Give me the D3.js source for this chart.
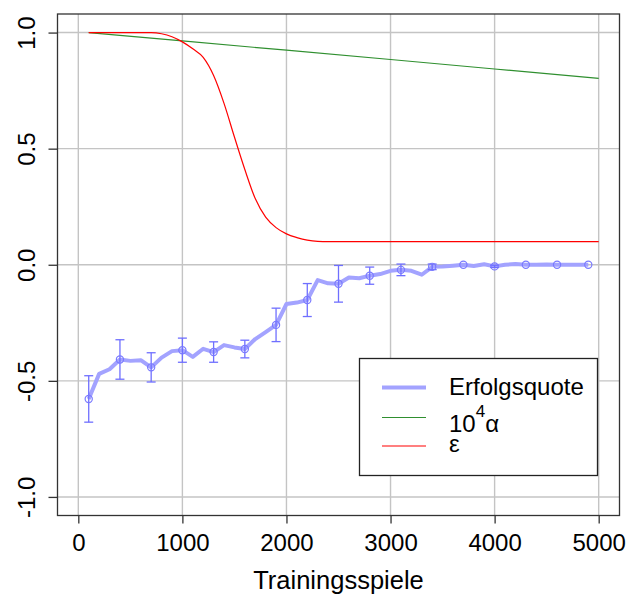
<!DOCTYPE html>
<html>
<head>
<meta charset="utf-8">
<script src="https://cdn.jsdelivr.net/npm/d3@7"></script>
<style>
  html, body { margin: 0; padding: 0; background: #fff; }
  svg text { font-family: "Liberation Sans", Arial, sans-serif; fill: #000; }
</style>
</head>
<body>
<svg id="chart" width="628" height="597"></svg>
<script>
// Training games (x) for the success-rate curve, every 100 games
const games = [100,200,300,400,500,600,700,800,900,1000,1100,1200,1300,1400,1500,1600,1700,1800,1900,2000,
  2100,2200,2300,2400,2500,2600,2700,2800,2900,3000,3100,3200,3300,3400,3500,3600,3700,3800,3900,4000,
  4100,4200,4300,4400,4500,4600,4700,4800,4900];
const successRate = [-0.578,-0.47,-0.45,-0.408,-0.414,-0.411,-0.442,-0.40,-0.372,-0.368,-0.397,-0.362,-0.376,-0.346,-0.356,-0.363,-0.320,-0.290,-0.259,-0.169,
  -0.163,-0.152,-0.066,-0.080,-0.082,-0.055,-0.058,-0.047,-0.040,-0.026,-0.022,-0.026,-0.043,-0.009,-0.008,-0.004,0.000,-0.005,0.002,-0.007,
  0.000,0.003,0.000,0.000,0.001,0.000,0.000,0.000,0.000];

// Sampled points with standard-error bars
const sampleGames = [100,400,700,1000,1300,1600,1900,2200,2500,2800,3100,3400,3700,4000,4300,4600,4900];
const sampleRate  = [-0.578,-0.408,-0.442,-0.368,-0.376,-0.363,-0.259,-0.152,-0.082,-0.047,-0.022,-0.009,0.000,-0.007,0.000,0.000,0.000];
const sampleErr   = [0.100,0.085,0.063,0.052,0.044,0.038,0.072,0.071,0.079,0.037,0.025,0.012,0,0.005,0,0,0];

// Learning rate (scaled by 10^4)
const alphaGames = [100,1000,2000,3000,4000,5000];
const alphaScaled = [1.000,0.964,0.924,0.884,0.843,0.803];

// Exploration rate epsilon
const epsGames = [100,200,300,400,500,600,700,800,900,1000,1100,1200,1300,1400,1500,1600,1700,1800,1900,2000,
  2100,2200,2300,2400,2500,3000,3500,4000,4500,5000];
const epsilon = [1.0,1.0,1.0,1.0,1.0,1.0,1.0,0.995,0.982,0.960,0.930,0.893,0.815,0.695,0.550,0.410,0.285,0.205,0.160,0.133,
  0.117,0.106,0.101,0.100,0.100,0.100,0.100,0.100,0.100,0.100];

const xTicks = [0,1000,2000,3000,4000,5000];
const yTicks = [1.0,0.5,0.0,-0.5,-1.0];
const yTickLabels = ["1.0","0.5","0.0","-0.5","-1.0"];
const xTitle = "Trainingsspiele";

const svg = d3.select("#chart");
const plot = {left: 57.5, right: 619.5, top: 14, bottom: 515.5};

const x = d3.scaleLinear().domain([-200, 5200]).range([plot.left, plot.right]);
const y = d3.scaleLinear().domain([-1.08, 1.08]).range([plot.bottom, plot.top]);

// grid
const grid = svg.append("g").attr("stroke", "#c4c4c4").attr("stroke-width", 1.4);
grid.selectAll(".gx").data(xTicks).join("line")
  .attr("x1", d => x(d)).attr("x2", d => x(d)).attr("y1", plot.top).attr("y2", plot.bottom);
grid.selectAll(".gy").data(yTicks).join("line")
  .attr("y1", d => y(d)).attr("y2", d => y(d)).attr("x1", plot.left).attr("x2", plot.right);

// epsilon and alpha curves
const line = d3.line().x(d => x(d[0])).y(d => y(d[1]));
const smooth = d3.line().x(d => x(d[0])).y(d => y(d[1])).curve(d3.curveMonotoneX);
svg.append("path").datum(d3.zip(alphaGames, alphaScaled))
  .attr("d", line).attr("fill", "none").attr("stroke", "#2f8f2f").attr("stroke-width", 1.2);
svg.append("path").datum(d3.zip(epsGames, epsilon))
  .attr("d", smooth).attr("fill", "none").attr("stroke", "#ff0000").attr("stroke-width", 1.2);

// success rate curve
svg.append("path").datum(d3.zip(games, successRate))
  .attr("d", line).attr("fill", "none").attr("stroke", "#a3a3ff").attr("stroke-width", 4)
  .attr("stroke-linejoin", "round");

// error bars (skipped where zero)
const bars = d3.zip(sampleGames, sampleRate, sampleErr).filter(d => d[2] > 0);
const eb = svg.append("g").attr("stroke", "#6f6fff").attr("stroke-width", 1.3).attr("fill", "none");
bars.forEach(d => {
  const cx = x(d[0]), y0 = y(d[1] - d[2]), y1 = y(d[1] + d[2]);
  eb.append("line").attr("x1", cx).attr("x2", cx).attr("y1", y0).attr("y2", y1);
  eb.append("line").attr("x1", cx - 4.5).attr("x2", cx + 4.5).attr("y1", y0).attr("y2", y0);
  eb.append("line").attr("x1", cx - 4.5).attr("x2", cx + 4.5).attr("y1", y1).attr("y2", y1);
});
svg.append("g").selectAll("circle").data(d3.zip(sampleGames, sampleRate)).join("circle")
  .attr("cx", d => x(d[0])).attr("cy", d => y(d[1])).attr("r", 3.6)
  .attr("fill", "none").attr("stroke", "#7a7aff").attr("stroke-width", 1.2);

// axes
const xAxis = svg.append("g").attr("transform", `translate(0,${plot.bottom})`)
  .call(d3.axisBottom(x).tickValues(xTicks).tickFormat(d3.format("d")).tickSize(8).tickPadding(10.5));
xAxis.select(".domain").remove();
xAxis.selectAll("line").attr("stroke", "#333").attr("stroke-width", 1.3);
xAxis.selectAll("text").style("font-size", "24px").attr("fill", "#000");

const yAxis = svg.append("g").attr("transform", `translate(${plot.left},0)`)
  .call(d3.axisLeft(y).tickValues(yTicks).tickFormat((d, i) => yTickLabels[i]).tickSize(9));
yAxis.select(".domain").remove();
yAxis.selectAll("line").attr("stroke", "#333").attr("stroke-width", 1.3);
yAxis.selectAll("text").attr("x", null).attr("dy", null)
  .attr("text-anchor", "middle")
  .attr("transform", "translate(-23,0) rotate(-90)")
  .style("font-size", "24px").attr("fill", "#000");

// plot frame
svg.append("rect").attr("x", plot.left).attr("y", plot.top)
  .attr("width", plot.right - plot.left).attr("height", plot.bottom - plot.top)
  .attr("fill", "none").attr("stroke", "#333").attr("stroke-width", 1.3);

// x-axis title
svg.append("text").attr("x", (x(0) + x(5000)) / 2).attr("y", 589)
  .attr("text-anchor", "middle").style("font-size", "25.5px").text(xTitle);

// legend
const lg = svg.append("g");
lg.append("rect").attr("x", 359.5).attr("y", 358.5).attr("width", 238).attr("height", 117)
  .attr("fill", "#fff").attr("stroke", "#222").attr("stroke-width", 1.3);
lg.append("line").attr("x1", 382).attr("x2", 426).attr("y1", 387.5).attr("y2", 387.5)
  .attr("stroke", "#a3a3ff").attr("stroke-width", 4);
lg.append("line").attr("x1", 382).attr("x2", 426).attr("y1", 417.5).attr("y2", 417.5)
  .attr("stroke", "#2f8f2f").attr("stroke-width", 1.2);
lg.append("line").attr("x1", 382).attr("x2", 426).attr("y1", 446).attr("y2", 446)
  .attr("stroke", "#ff0000").attr("stroke-width", 1.2);
lg.append("text").attr("x", 449).attr("y", 394.5).style("font-size", "24px").text("Erfolgsquote");
const t2 = lg.append("text").attr("x", 449).attr("y", 432).style("font-size", "24px");
t2.append("tspan").text("10");
t2.append("tspan").attr("dy", -15).style("font-size", "17px").text("4");
t2.append("tspan").attr("dy", 15).style("font-size", "24px").text("α");
lg.append("text").attr("x", 449).attr("y", 452).style("font-size", "24px").text("ε");
</script>
</body>
</html>
